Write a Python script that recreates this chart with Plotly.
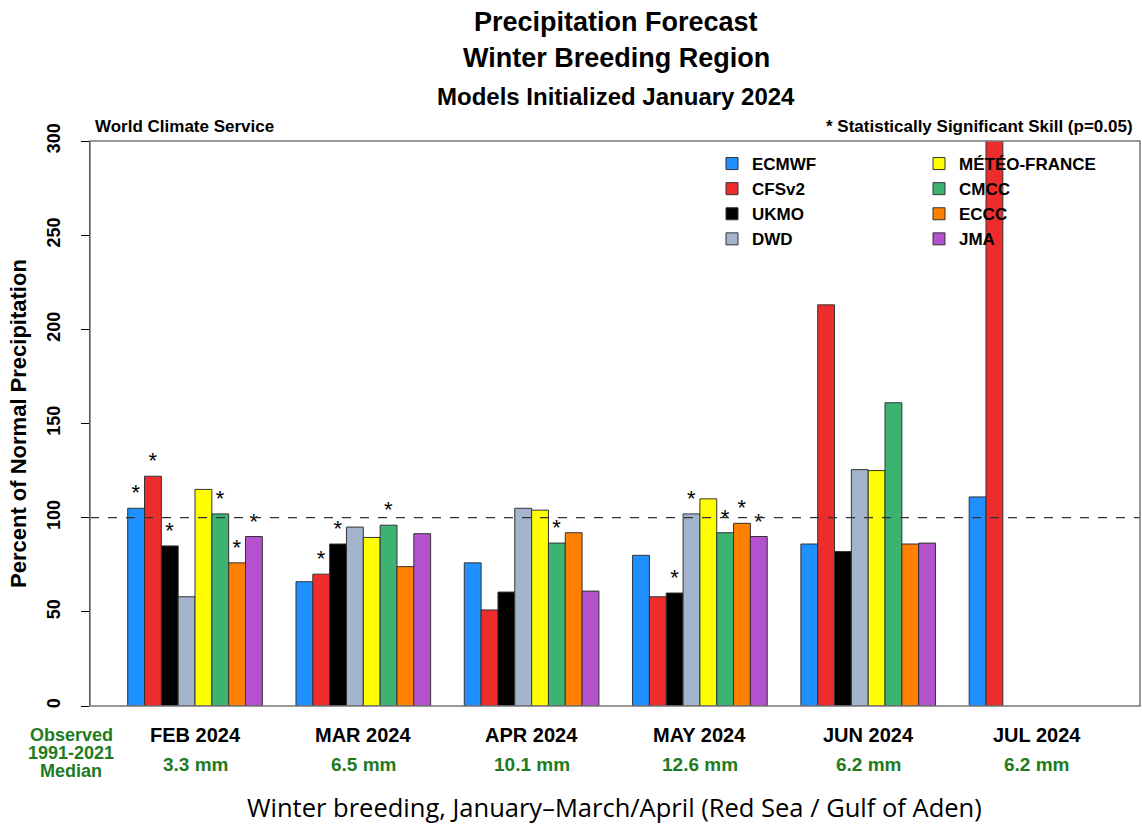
import plotly.graph_objects as go

months = ["FEB 2024", "MAR 2024", "APR 2024", "MAY 2024", "JUN 2024", "JUL 2024"]
medians = ["3.3 mm", "6.5 mm", "10.1 mm", "12.6 mm", "6.2 mm", "6.2 mm"]

models = ["ECMWF", "CFSv2", "UKMO", "DWD", "MÉTÉO-FRANCE", "CMCC", "ECCC", "JMA"]
colors = ["#1E90FF", "#EE2C2C", "#000000", "#A2B5CD", "#FFFF00", "#3CB371", "#FF7F00", "#B452CD"]
legend_column = ["legend", "legend", "legend", "legend", "legend2", "legend2", "legend2", "legend2"]

ecmwf = [105, 66, 76, 80, 86, 111]
cfsv2 = [122, 70, 51, 58, 213, 315]
ukmo = [85, 86, 60.5, 60, 82, None]
dwd = [58, 95, 105, 102, 125.5, None]
meteo = [115, 89.5, 104, 110, 125, None]
cmcc = [102, 96, 86.5, 92, 161, None]
eccc = [76, 74, 92, 97, 86, None]
jma = [90, 91.5, 61, 90, 86.5, None]
values = [ecmwf, cfsv2, ukmo, dwd, meteo, cmcc, eccc, jma]

# significance flags (1 = statistically significant skill)
sig_ecmwf = [1, 0, 0, 0, 0, 0]
sig_cfsv2 = [1, 1, 0, 0, 0, 0]
sig_ukmo = [1, 1, 0, 1, 0, 0]
sig_dwd = [0, 0, 0, 1, 0, 0]
sig_meteo = [0, 0, 0, 0, 0, 0]
sig_cmcc = [1, 1, 1, 1, 0, 0]
sig_eccc = [1, 0, 0, 1, 0, 0]
sig_jma = [1, 0, 0, 1, 0, 0]
sigs = [sig_ecmwf, sig_cfsv2, sig_ukmo, sig_dwd, sig_meteo, sig_cmcc, sig_eccc, sig_jma]

FONT = "Liberation Sans, Arial, sans-serif"
GREEN = "#1E7B1E"

x = list(range(len(months)))
fig = go.Figure()
for name, col, vals, sg, lg in zip(models, colors, values, sigs, legend_column):
    fig.add_trace(go.Bar(
        x=x, y=vals, name=name, legend=lg,
        marker=dict(color=col, line=dict(color="#333333", width=1)),
        text=["*" if s else "" for s in sg],
        textposition="outside", constraintext="none", cliponaxis=True,
        textfont=dict(family=FONT, size=22, color="black"),
        hoverinfo="skip",
    ))

def py(p):
    return (706 - p) / 565.0

def px(p):
    return (p - 90) / 1050.0

ann = []
ann.append(dict(text="<b>Precipitation Forecast</b>", x=px(616), y=py(22), font=dict(size=27)))
ann.append(dict(text="<b>Winter Breeding Region</b>", x=px(616), y=py(58), font=dict(size=27)))
ann.append(dict(text="<b>Models Initialized January 2024</b>", x=px(616), y=py(96), font=dict(size=24)))
ann.append(dict(text="<b>World Climate Service</b>", x=px(93), y=py(127), xanchor="left", font=dict(size=17)))
ann.append(dict(text="<b>* Statistically Significant Skill (p=0.05)</b>", x=px(1135), y=py(127), xanchor="right", font=dict(size=17)))
ann.append(dict(text="<b>Percent of Normal Precipitation</b>", x=px(18), y=py(424), textangle=-90, font=dict(size=22)))
for i, lab in enumerate(["Observed", "1991-2021", "Median"]):
    ann.append(dict(text="<b>%s</b>" % lab, x=px(71), y=py(735 + 18 * i), height=18,
                    font=dict(size=18, color=GREEN)))
for i, (m, md) in enumerate(zip(months, medians)):
    ann.append(dict(text="<b>%s</b>" % m, x=i, xref="x", y=py(735), font=dict(size=20)))
    ann.append(dict(text="<b>%s</b>" % md, x=i, xref="x", y=py(764), font=dict(size=19, color=GREEN)))
ann.append(dict(text="Winter breeding, January–March/April (Red Sea / Gulf of Aden)", x=px(614), y=py(807),
                font=dict(size=25.5, family="Open Sans, Noto Sans, sans-serif")))
for a in ann:
    a.setdefault("xref", "paper")
    a.setdefault("yref", "paper")
    a.setdefault("xanchor", "center")
    a["yanchor"] = "middle"
    a["showarrow"] = False
    f = a["font"]
    f.setdefault("family", FONT)
    f.setdefault("color", "black")

legend_style = dict(orientation="v", yanchor="top", xanchor="left", traceorder="normal",
                    font=dict(size=17, family=FONT, color="black", weight="bold"),
                    bgcolor="rgba(0,0,0,0)", itemclick=False, itemdoubleclick=False)

fig.update_layout(
    width=1142, height=825,
    margin=dict(l=90, r=2, t=141, b=119),
    paper_bgcolor="white", plot_bgcolor="white",
    barmode="group", bargap=0.2, bargroupgap=0,
    font=dict(family=FONT, color="black"),
    annotations=ann,
    showlegend=True,
    legend=dict(x=px(712), y=py(146), **legend_style),
    legend2=dict(x=px(919), y=py(146), **legend_style),
    shapes=[
        dict(type="line", xref="paper", yref="y", x0=0, x1=1, y0=100, y1=100,
             line=dict(color="#333333", width=1.2, dash="dash"), layer="above"),
        dict(type="rect", xref="paper", yref="paper", x0=0, x1=1, y0=0, y1=1,
             line=dict(color="#777777", width=1.5), layer="above"),
    ],
)
fig.update_xaxes(range=[-0.624, 5.615], showticklabels=False, ticks="", showgrid=False,
                 zeroline=False, showline=False)
fig.update_yaxes(range=[0, 300], tickvals=[0, 50, 100, 150, 200, 250, 300], tickangle=-90,
                 ticks="outside", ticklen=8, tickcolor="black", tickwidth=1.2,
                 showline=True, linecolor="black", linewidth=1.3, showgrid=False, zeroline=False,
                 tickfont=dict(size=18, family=FONT, color="black", weight="bold"),
                 ticklabelstandoff=14)

fig.write_html("out.html")
